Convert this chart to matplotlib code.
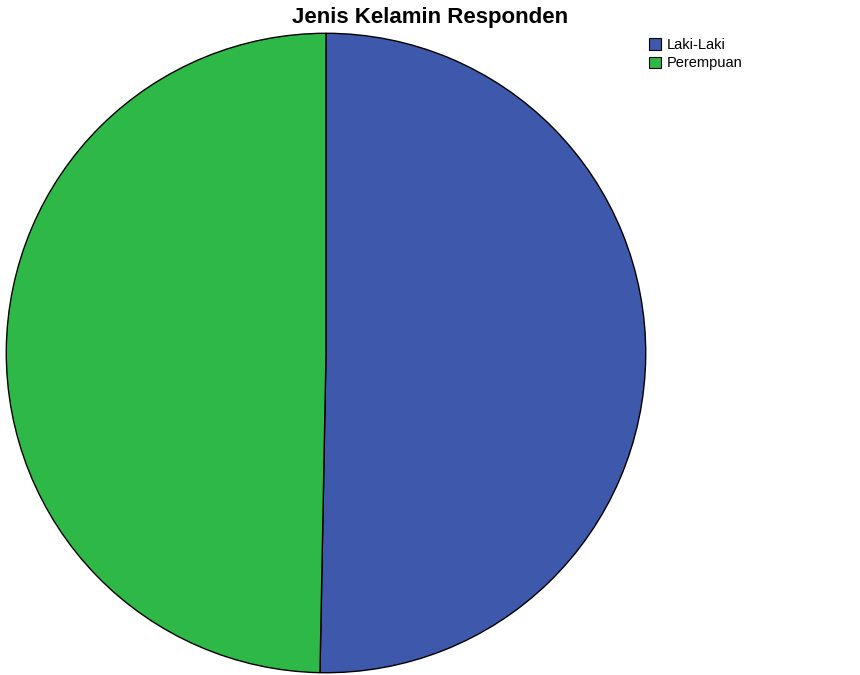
import matplotlib.pyplot as plt
from matplotlib.patches import Patch

plt.rcParams['font.family'] = ['Liberation Sans', 'DejaVu Sans']

labels = ['Laki-Laki', 'Perempuan']
values = [50.3, 49.7]
colors = ['#3e58ac', '#2eb848']

W, H = 860, 675
fig = plt.figure(figsize=(W / 100, H / 100), dpi=100)

# pie axes: square box, left edge at x=5, spanning y 33..674
ax = fig.add_axes([5 / W, (H - 674) / H, 642 / W, 642 / H])
ax.pie(values, colors=colors, startangle=90, counterclock=False, radius=1,
       wedgeprops=dict(edgecolor='black', linewidth=1.0))
ax.set_xlim(-1.004, 1.004)
ax.set_ylim(-1.004, 1.004)
ax.set_axis_off()

fig.text(0.5, 1 - 18 / H, 'Jenis Kelamin Responden', ha='center', va='center',
         fontsize=16, fontweight='bold')

handles = [Patch(facecolor=c, edgecolor='black', linewidth=0.8) for c in colors]
fig.legend(handles, labels, loc='upper left', bbox_to_anchor=(649 / W, 1 - 38 / H),
           frameon=False, fontsize=10.5, handlelength=0.85, handleheight=0.85,
           handletextpad=0.35, labelspacing=0.3, borderpad=0, borderaxespad=0)

fig.savefig('out.png', dpi=100)
